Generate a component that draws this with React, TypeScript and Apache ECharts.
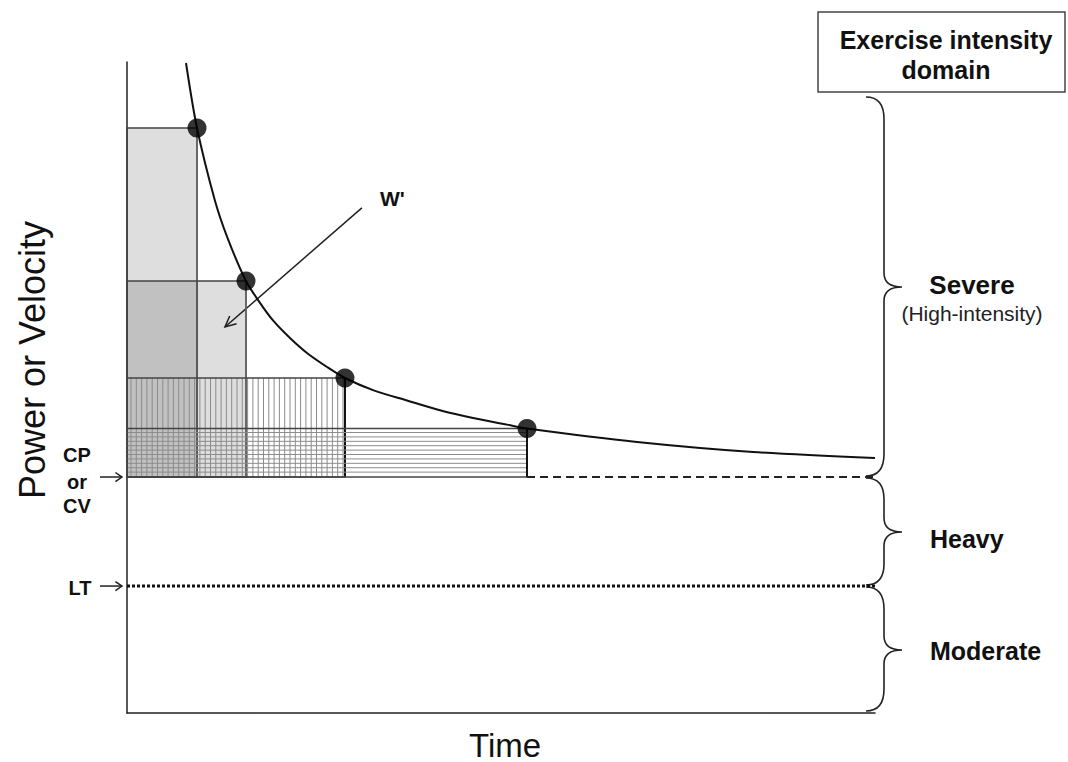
import React, { useEffect, useRef } from "react";
import * as echarts from "echarts";

// ---- data (time units 0..100, power units 0..100) ----
const CP_LEVEL = 36.25;
const LT_LEVEL = 19.5;
const pointTimes = [9.36, 15.91, 29.14, 53.48];
const pointPowers = [89.86, 66.36, 51.46, 43.7];
const curveTimes = [7.89, 9.36, 11.76, 13.5, 15.91, 17.78, 19.52, 21.79, 24.06, 26.74, 29.14, 32.89, 37.43, 41.84, 46.26, 50.8, 53.48, 68.18, 83.69, 100];
const curvePowers = [99.85, 89.86, 78.7, 72.8, 66.36, 63.0, 60.3, 57.6, 55.3, 53.15, 51.46, 49.6, 48.0, 46.5, 45.3, 44.3, 43.7, 41.63, 40.09, 39.17];
const rectPatterns = ["stipple", "stipple", "vertical", "horizontal"];
const wArrowFrom = [31.4, 77.6];
const wArrowTo = [13.1, 59.3];
const domainLabels = ["Severe", "Heavy", "Moderate"];

const FONT = "'Liberation Sans', Arial, Helvetica, sans-serif";

export default function App() {
  const ref = useRef<HTMLDivElement>(null);

  useEffect(() => {
    if (!ref.current) return;
    const chart = echarts.init(ref.current, null, { renderer: "svg" });

    const rectData = pointTimes.map((t, i) => [t, pointPowers[i], i]);

    chart.setOption({
      animation: false,
      backgroundColor: "#ffffff",
      grid: { left: 127, right: 193, top: 62, bottom: 49 },
      xAxis: {
        type: "value",
        min: 0,
        max: 100,
        axisLine: { show: true, lineStyle: { color: "#222", width: 1.5 } },
        axisTick: { show: false },
        axisLabel: { show: false },
        splitLine: { show: false },
      },
      yAxis: {
        type: "value",
        min: 0,
        max: 100,
        axisLine: { show: true, onZero: false, lineStyle: { color: "#222", width: 1.5 } },
        axisTick: { show: false },
        axisLabel: { show: false },
        splitLine: { show: false },
      },
      series: [
        {
          type: "custom",
          name: "W' rectangles",
          data: rectData,
          z: 1,
          renderItem: (params: any, api: any) => {
            const idx = api.value(2);
            const p0 = api.coord([0, CP_LEVEL]);
            const p1 = api.coord([api.value(0), api.value(1)]);
            const x = p0[0];
            const y = p1[1];
            const w = p1[0] - p0[0];
            const h = p0[1] - p1[1];
            const pattern = rectPatterns[idx];
            const children: any[] = [];
            if (pattern === "stipple") {
              children.push({
                type: "rect",
                shape: { x, y, width: w, height: h },
                style: { fill: "rgba(0,0,0,0.13)" },
              });
            } else if (pattern === "vertical") {
              for (let lx = x + 4; lx < x + w - 1; lx += 5.3) {
                children.push({
                  type: "line",
                  shape: { x1: lx, y1: y, x2: lx, y2: y + h },
                  style: { stroke: "#8c8c8c", lineWidth: 1 },
                });
              }
            } else {
              for (let ly = y + 4; ly < y + h - 1; ly += 4.4) {
                children.push({
                  type: "line",
                  shape: { x1: x, y1: ly, x2: x + w, y2: ly },
                  style: { stroke: "#8c8c8c", lineWidth: 1 },
                });
              }
            }
            children.push({
              type: "rect",
              shape: { x, y, width: w, height: h },
              style: { fill: "none", stroke: "#444", lineWidth: 1.5 },
            });
            children.push({
              type: "line",
              shape: { x1: x + w, y1: y, x2: x + w, y2: y + h },
              style: { stroke: idx >= 2 ? "#111" : "#666", lineWidth: idx >= 2 ? 2 : 1.5 },
            });
            return { type: "group", children };
          },
        },
        {
          type: "line",
          name: "CP dashed",
          data: [
            [pointTimes[3], CP_LEVEL],
            [100, CP_LEVEL],
          ],
          symbol: "none",
          lineStyle: { color: "#222", width: 1.8, type: [8, 5] },
          z: 2,
        },
        {
          type: "line",
          name: "LT dotted",
          data: [
            [0, LT_LEVEL],
            [100, LT_LEVEL],
          ],
          symbol: "none",
          lineStyle: { color: "#111", width: 3, type: [3, 2] },
          z: 2,
        },
        {
          type: "line",
          name: "Power-duration curve",
          data: curveTimes.map((t, i) => [t, curvePowers[i]]),
          smooth: 0.3,
          symbol: "none",
          lineStyle: { color: "#111", width: 2 },
          z: 3,
        },
        {
          type: "scatter",
          name: "Trials",
          data: pointTimes.map((t, i) => [t, pointPowers[i]]),
          symbolSize: 19,
          itemStyle: { color: "#000" },
          z: 4,
        },
      ],
    });

    const px = (v: number[]) => chart.convertToPixel({ gridIndex: 0 }, v) as number[];
    const yCP = px([0, CP_LEVEL])[1];
    const yLT = px([0, LT_LEVEL])[1];
    const xRight = px([100, 0])[0];

    // braces
    const braceD = (y1: number, y2: number, ym: number) => {
      const x0 = xRight - 9;
      const xv = xRight + 9;
      const xt = xRight + 27;
      const r = Math.min(22, (ym - y1) / 2.5, (y2 - ym) / 2.5);
      const rt = Math.min(14, (ym - y1) / 3, (y2 - ym) / 3);
      return (
        `M${x0} ${y1} Q${xv} ${y1} ${xv} ${y1 + r} L${xv} ${ym - rt} Q${xv} ${ym} ${xt} ${ym} ` +
        `Q${xv} ${ym} ${xv} ${ym + rt} L${xv} ${y2 - r} Q${xv} ${y2} ${x0} ${y2}`
      );
    };
    const braces = [
      [97, yCP - 1, 287],
      [yCP + 1, yLT - 1, 532],
      [yLT + 1, 711, 650],
    ];
    braces.forEach((b, i) => {
      echarts.graphic.registerShape("brace" + i, echarts.graphic.extendPath(braceD(b[0], b[1], b[2]), {}));
    });

    const arrowHead = (from: number[], to: number[], len: number, ang: number) => {
      const dx = to[0] - from[0];
      const dy = to[1] - from[1];
      const a = Math.atan2(dy, dx);
      return [
        [to[0] - len * Math.cos(a - ang), to[1] - len * Math.sin(a - ang)],
        to,
        [to[0] - len * Math.cos(a + ang), to[1] - len * Math.sin(a + ang)],
      ];
    };

    const wFrom = px(wArrowFrom);
    const wTo = px(wArrowTo);
    const leftArrow = (y: number) => [
      { type: "line", shape: { x1: 100, y1: y, x2: 122, y2: y }, style: { stroke: "#222", lineWidth: 1.5 } },
      {
        type: "polyline",
        shape: { points: arrowHead([100, y], [122, y], 8, 0.6) },
        style: { stroke: "#222", lineWidth: 1.5, fill: "none" },
      },
    ];

    const bold = (text: string, x: number, y: number, size: number, align = "center") => ({
      type: "text",
      x,
      y,
      style: { text, fill: "#111", font: `bold ${size}px ${FONT}`, align, verticalAlign: "middle" },
    });

    chart.setOption({
      graphic: [
        ...braces.map((_, i) => ({
          type: "brace" + i,
          style: { stroke: "#222", lineWidth: 1.6, fill: "none" },
        })),
        // domain box
        {
          type: "rect",
          shape: { x: 818, y: 12, width: 247, height: 80 },
          style: { fill: "#fff", stroke: "#444", lineWidth: 1.5 },
        },
        bold("Exercise intensity", 946, 40, 25),
        bold("domain", 946, 70, 25),
        bold(domainLabels[0], 972, 285, 26),
        {
          type: "text",
          x: 972,
          y: 313,
          style: { text: "(High-intensity)", fill: "#222", font: `21px ${FONT}`, align: "center", verticalAlign: "middle" },
        },
        bold(domainLabels[1], 930, 539, 25, "left"),
        bold(domainLabels[2], 930, 651, 25, "left"),
        // left labels
        bold("CP", 77, 455, 20),
        bold("or", 77, 482, 20),
        bold("CV", 77, 506, 20),
        bold("LT", 80, 588, 20),
        ...leftArrow(yCP),
        ...leftArrow(yLT),
        // W' arrow
        { type: "line", shape: { x1: wFrom[0], y1: wFrom[1], x2: wTo[0], y2: wTo[1] }, style: { stroke: "#222", lineWidth: 1.5 } },
        {
          type: "polyline",
          shape: { points: arrowHead(wFrom, wTo, 12, 0.45) },
          style: { stroke: "#222", lineWidth: 1.5, fill: "none" },
        },
        bold("W'", 380, 198, 21, "left"),
        // axis titles
        {
          type: "text",
          x: 32,
          y: 360,
          rotation: Math.PI / 2,
          style: { text: "Power or Velocity", fill: "#111", font: `36px ${FONT}`, align: "center", verticalAlign: "middle" },
        },
        {
          type: "text",
          x: 505,
          y: 745,
          style: { text: "Time", fill: "#111", font: `33px ${FONT}`, align: "center", verticalAlign: "middle" },
        },
      ],
    });

    return () => chart.dispose();
  }, []);

  return <div ref={ref} style={{ position: "fixed", left: 0, top: 0, width: 1068, height: 762 }} />;
}
